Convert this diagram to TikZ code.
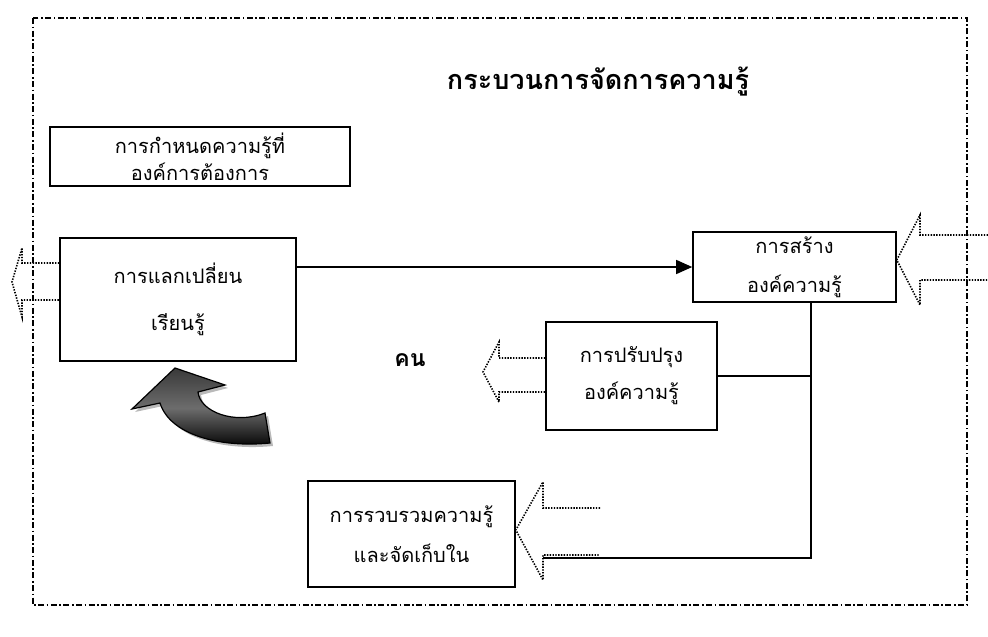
\documentclass[tikz,border=0pt]{standalone}
\usepackage{fontspec}
\newfontfamily\thai[Script=Thai]{Loma}
\usetikzlibrary{arrows.meta,calc}
\tikzset{
  box/.style={draw, line width=1.6pt, align=center, inner sep=0pt},
  conn/.style={line width=1.4pt},
  hollow/.style={line width=1.6pt, dash pattern=on 1.4pt off 1.4pt, line join=miter},
  frame/.style={line width=1.3pt, dash pattern=on 6pt off 2.5pt on 1.6pt off 2.5pt}
}
\begin{document}
\begin{tikzpicture}[x=1pt,y=-1pt]
\useasboundingbox (0,0) rectangle (988,637);
% frame
\draw[frame] (33,18) rectangle (967,605);
% title
\node[font=\thai\bfseries\fontsize{27}{32}\selectfont] (title) at (598,82) {กระบวนการจัดการความรู้};
% boxes
\node[box, minimum width=300pt, minimum height=59pt, font=\thai\fontsize{20}{27}\selectfont] (b1) at (200,156.5) {การกำหนดความรู้ที่\\องค์การต้องการ};
\node[box, minimum width=236pt, minimum height=123pt, font=\thai\fontsize{20}{47}\selectfont] (b2) at (178,299.5) {การแลกเปลี่ยน\\เรียนรู้};
\node[box, minimum width=203pt, minimum height=70pt, font=\thai\fontsize{20}{39}\selectfont] (b3) at (794.5,267) {การสร้าง\\องค์ความรู้};
\node[box, minimum width=171pt, minimum height=108pt, font=\thai\fontsize{20}{37}\selectfont] (b4) at (631.5,376) {การปรับปรุง\\องค์ความรู้};
\node[box, minimum width=207pt, minimum height=106pt, font=\thai\fontsize{20}{40}\selectfont] (b5) at (411.5,534) {การรวบรวมความรู้\\และจัดเก็บใน};
\node[font=\thai\bfseries\fontsize{23}{26}\selectfont] (kon) at (410,360) {คน};
% connectors
\draw[conn, -{Triangle[length=16pt,width=14pt]}] (b3.west -| b2.east) -- (b3.west);
\coordinate (v) at ([xshift=16.5pt]b3.south);
\coordinate (bend) at (543,558);
\draw[conn] (v) |- (bend);
\draw[conn] (b4.east) -- (b4.east -| v);
% hollow dotted arrows
\draw[hollow] (b2.west |- 0,263) -- (22,263) -- (22,248) -- (12,282) -- (22,317) -- (22,300) -- (b2.west |- 0,300);
\draw[hollow] (988,235) -- (920,235) -- (920,215) -- (b3.east |- 0,260) -- (920,305) -- (920,280) -- (988,280);
\draw[hollow] (b4.west |- 0,358) -- (499,358) -- (499,342) -- (483,372) -- (499,402) -- (499,392) -- (b4.west |- 0,392);
\draw[hollow] (600,508) -- (543,508) -- (543,482) -- (b5.east |- 0,530) -- (543,580) -- (543,555) -- (600,555);
% curved 3D arrow
\fill[gray!55] ($(175,368)+(3,3)$) -- ($(225,385)+(3,3)$) -- ($(198,392)+(3,3)$)
  .. controls ($(200,412)+(3,3)$) and ($(235,425)+(3,3)$) .. ($(265,413)+(3,3)$)
  -- ($(270,443)+(3,3)$)
  .. controls ($(220,448)+(3,3)$) and ($(170,435)+(3,3)$) .. ($(160,403)+(3,3)$)
  -- ($(132,409)+(3,3)$) -- cycle;
\draw[line width=1.2pt, top color=gray!45!black, bottom color=black, middle color=gray!85!black]
  (175,368) -- (225,385) -- (198,392)
  .. controls (200,412) and (235,425) .. (265,413)
  -- (270,443)
  .. controls (220,448) and (170,435) .. (160,403)
  -- (132,409) -- cycle;
\end{tikzpicture}
\end{document}
